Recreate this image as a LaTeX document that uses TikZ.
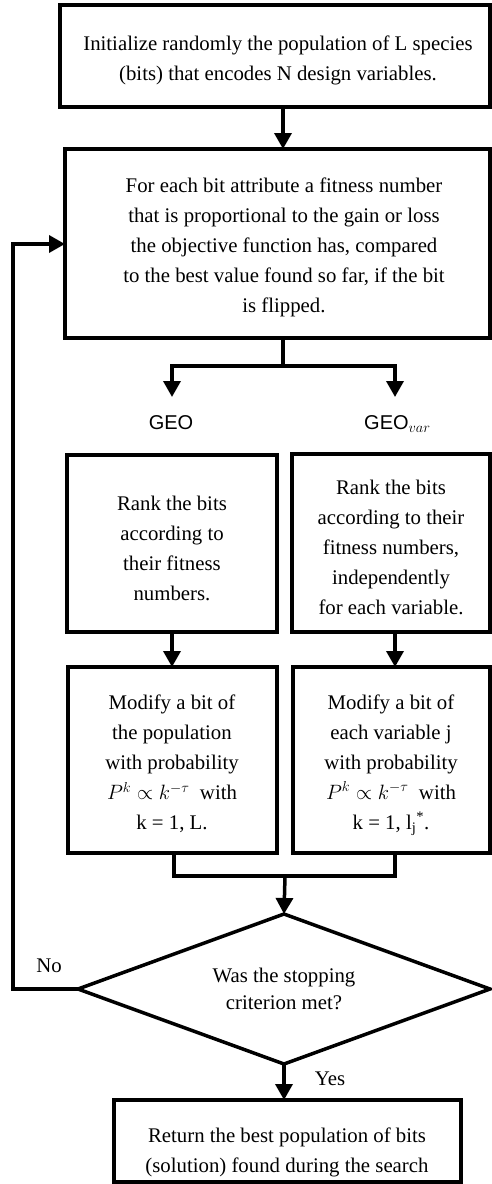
\documentclass[tikz,border=0pt]{standalone}
\usepackage{fontspec}
\setmainfont{Liberation Serif}
\newfontfamily\geofont{Liberation Sans}
\usetikzlibrary{arrows.meta,shapes.geometric}
\begin{document}
\begin{tikzpicture}[x=1pt,y=-1pt,
  box/.style={draw, line width=3.5pt, rectangle, inner sep=0pt, outer sep=0pt},
  txt/.style={align=center, inner sep=0pt, font=\fontsize{20.8}{30}\selectfont},
  lbl/.style={inner sep=0pt, font=\fontsize{20.8}{24}\selectfont},
  geo/.style={inner sep=0pt, font=\geofont\fontsize{20}{24}\selectfont},
  conn/.style={line width=3.5pt, line cap=rect},
  arr/.style={line width=3.5pt, -{Triangle[width=17pt,length=16pt]}},
]
\useasboundingbox (0,0) rectangle (492,1184);

% boxes
\node[box, minimum width=430pt, minimum height=102pt] (b1) at (275,56) {};
\node[box, minimum width=425pt, minimum height=189pt] (b2) at (277.5,243.5) {};
\node[box, minimum width=210pt, minimum height=177pt] (b3) at (172,543.5) {};
\node[box, minimum width=198pt, minimum height=178pt] (b4) at (391,543) {};
\node[box, minimum width=209pt, minimum height=186pt] (b5) at (172.5,760) {};
\node[box, minimum width=197pt, minimum height=186pt] (b6) at (391.5,760) {};
\node[draw, line width=3.5pt, diamond, shape aspect=2.75, minimum width=412pt, minimum height=150pt,
      inner sep=0pt, outer sep=0pt, align=center, font=\fontsize{20.8}{27}\selectfont] (dia) at (284,989)
      {Was the stopping\\criterion met?};
\node[box, minimum width=347pt, minimum height=82pt] (b7) at (287.5,1141) {};

% texts
\node[txt] (t1) at (278,60) {Initialize randomly the population of L species\\(bits) that encodes N design variables.};
\node[txt] (t2) at (284,247.5) {For each bit attribute a fitness number\\that is proportional to the gain or loss\\the objective function has, compared\\to the best value found so far, if the bit\\is flipped.};
\node[txt] (t3) at (172,548) {Rank the bits\\according to\\their fitness\\numbers.};
\node[txt] (t4) at (391,547) {Rank the bits\\according to their\\fitness numbers,\\independently\\for each variable.};
\node[txt] (t5) at (172,764) {Modify a bit of\\the population\\with probability\\$P^k\propto k^{-\tau}$\ \ with\\k = 1, L.};
\node[txt] (t6) at (391,765) {Modify a bit of\\each variable j\\with probability\\$P^k\propto k^{-\tau}$\ \ with\\k = 1, l\textsubscript{j}\textsuperscript{*}.};
\node[txt] (t7) at (287,1152) {Return the best population of bits\\(solution) found during the search};

% labels
\node[geo, anchor=base] (lgeo) at (171,429) {GEO};
\node[geo, anchor=base west] (lgeov) at (364,429) {GEO$_{var}$};
\node[lbl] (lno) at (49,966) {No};
\node[lbl] (lyes) at (330,1079) {Yes};

% coordinates
\coordinate (c1) at (283,0);
\coordinate (br) at (283,366);
\coordinate (gL) at (172,366);
\coordinate (gR) at (395,366);
\coordinate (gLe) at (172,397);
\coordinate (gRe) at (395,397);
\coordinate (cL) at (172,0);
\coordinate (cR) at (395,0);
\coordinate (mL) at (174,876);
\coordinate (mR) at (395,876);
\coordinate (mC) at (285,876);
\coordinate (fb) at (13,244);

% connectors
\draw[arr] (b1.south -| c1) -- (b2.north -| c1);
\draw[conn] (b2.south -| br) -- (br);
\draw[conn] (gL) -- (gR);
\draw[arr] (gL) -- (gLe);
\draw[arr] (gR) -- (gRe);
\draw[arr] (b3.south -| cL) -- (b5.north -| cL);
\draw[arr] (b4.south -| cR) -- (b6.north -| cR);
\draw[conn] (b5.south -| mL) -- (mL) -- (mR) -- (b6.south -| mR);
\draw[arr] (mC) -- (dia.north);
\draw[arr] (dia.south) -- (b7.north -| dia.south);
\draw[arr] (dia.west) -| (fb) -- (fb -| b2.west);
\end{tikzpicture}
\end{document}
